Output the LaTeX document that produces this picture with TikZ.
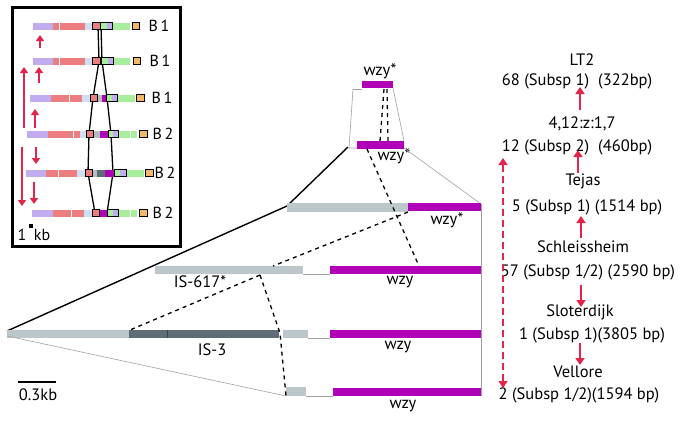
\documentclass[tikz,border=0pt]{standalone}
\usepackage{fontspec}
\setmainfont{PT Sans}
\usetikzlibrary{arrows.meta}
\definecolor{lpur}{HTML}{C0ACEE}
\definecolor{sal}{HTML}{EC7E80}
\definecolor{lblu}{HTML}{CFDFF4}
\definecolor{lgrn}{HTML}{A8EE9C}
\definecolor{orng}{HTML}{F2B866}
\definecolor{igry}{HTML}{B4BEC2}
\definecolor{dgry}{HTML}{5E6E76}
\definecolor{mag}{HTML}{B000B8}
\definecolor{barg}{HTML}{BCC7CC}
\definecolor{arr}{HTML}{E3244B}
\definecolor{thin}{HTML}{A0A0A0}
\newcommand{\insrow}[3]{%
  \foreach \cl/\ww [remember=\nx as \cx (initially #2)] in {#3}{%
    \pgfmathsetmacro{\nx}{\cx+\ww}%
    \fill[\cl] (\cx,#1-3.5) rectangle (\nx,#1+3.5);
    \draw[white, line width=0.4pt] (\nx,#1-3.5) -- (\nx,#1+3.5);
  }}
\newcommand{\bbox}[3]{\draw[black, line width=0.9pt] (#2,#1-3.5) rectangle (#3,#1+3.5);}
\begin{document}
\begin{tikzpicture}[x=1pt,y=-1pt,
  lbl/.style={font=\fontsize{16.5}{16.5}\selectfont, inner sep=0pt},
  blbl/.style={font=\fontsize{16}{16}\selectfont, inner sep=0pt},
  redarr/.style={draw=arr, line width=2.6pt, -{Triangle[width=9pt,length=7pt]}},
  inarr/.style={draw=arr, line width=2.4pt, -{Triangle[width=8pt,length=6pt]}},
  thinl/.style={draw=thin, line width=0.6pt},
  dsh/.style={draw=black, line width=1.3pt, dash pattern=on 4pt off 4pt},
  blk/.style={draw=black, line width=1.4pt},
  ]
\useasboundingbox (0,0) rectangle (683,421);
% ---------------- inset ----------------
\draw[line width=3pt] (12,7) rectangle (180,246);
\draw[black, line width=1.3pt] (98,26) -- (99,61) -- (93,98) -- (89,134) -- (88,173) -- (95,213);
\draw[black, line width=1.3pt] (101,26) -- (102,61) -- (107,98) -- (111,134) -- (113,173) -- (107,213);
% row 1
\insrow{26}{33}{lpur/6.7,lpur/6.7,lpur/6.7,sal/6.4,sal/6.4,sal/6.4,sal/6.4,sal/6.4,lblu/7.5,sal/7.5,lgrn/7,lpur/5.5,lgrn/5.7,lgrn/5.7,lgrn/5.7}
\fill[orng] (132,22.5) rectangle (139,29.5);
\bbox{26}{92.6}{100.1}\bbox{26}{100.1}{112.6}\bbox{26}{132}{139}
% row 2
\insrow{61}{33}{lpur/6.7,lpur/6.7,lpur/6.7,sal/6.4,sal/6.4,sal/6.4,sal/6.4,sal/6.4,lblu/7.5,sal/7.5,mag/1.8,lgrn/6,lpur/5.5,lgrn/5.7,lgrn/5.7,lgrn/5.7}
\fill[orng] (133,57.5) rectangle (140,64.5);
\bbox{61}{92.6}{100.1}\bbox{61}{101.9}{113.4}\bbox{61}{133}{140}
% row 3
\insrow{98}{30}{lpur/7,lpur/7,lpur/7,sal/6.2,sal/6.2,sal/6.2,sal/6.2,sal/6.2,lblu/8,sal/7,igry/5,mag/4,lgrn/6,lpur/5,lgrn/6,lgrn/6,lgrn/6}
\fill[orng] (136,94.5) rectangle (144,101.5);
\bbox{98}{90}{97}\bbox{98}{106}{117}\bbox{98}{136}{144}
% row 4
\insrow{134}{27}{lpur/7,lpur/7,lpur/7,sal/6.4,sal/6.4,sal/6.4,sal/6.4,sal/6.4,lblu/6,sal/7,igry/7,mag/8,lgrn/5,lpur/5,lgrn/6.3,lgrn/6.3,lgrn/6.3}
\fill[orng] (139,130.5) rectangle (147,137.5);
\bbox{134}{86}{93}\bbox{134}{108}{118}\bbox{134}{139}{147}
% row 5
\insrow{173}{26}{lpur/6.7,lpur/6.7,lpur/6.7,sal/6.2,sal/6.2,sal/6.2,sal/6.2,sal/6.2,lblu/8,sal/7,igry/5,dgry/8,mag/9,lgrn/6,lpur/6,lgrn/6,lgrn/6,lgrn/6}
\fill[orng] (145,169.5) rectangle (153,176.5);
\bbox{173}{85}{92}\bbox{173}{114}{126}\bbox{173}{145}{153}
% row 6
\insrow{213}{32}{lpur/7,lpur/7,lpur/7,sal/6.2,sal/6.2,sal/6.2,sal/6.2,sal/6.2,lblu/8,sal/7,white/1,mag/7,lgrn/6,lpur/5,lgrn/6.3,lgrn/6.3,lgrn/6.3}
\fill[orng] (139,209.5) rectangle (147,216.5);
\bbox{213}{92}{99}\bbox{213}{107}{118}\bbox{213}{139}{147}
% B labels
\node[blbl] (b1) at (159,26) {B\,1};
\node[blbl] (b2) at (160,61) {B\,1};
\node[blbl] (b3) at (162,98) {B\,1};
\node[blbl] (b4) at (163,134) {B\,2};
\node[blbl] (b5) at (165,173) {B\,2};
\node[blbl] (b6) at (163,213) {B\,2};
% inset arrows
\draw[inarr] (40,48) -- (40,35);
\draw[inarr] (24,128) -- (24,67);
\draw[inarr] (39,83) -- (39,67);
\draw[inarr] (35,128) -- (35,109);
\draw[inarr] (36,147) -- (36,164);
\draw[inarr] (22,147) -- (22,206);
\draw[inarr] (34,182) -- (34,204);
% 1 kb
\node[blbl] (one) at (22,235) {1};
\fill[black] (28.5,223.5) rectangle (32.5,227.5);
\node[blbl] (kb) at (42,235) {kb};
% ---------------- main map ----------------
% top wzy*
\fill[mag] (362,81) rectangle (393,88);
\node[lbl] (wz1) at (380,71) {wzy*};
\coordinate (t1l) at (353,89);
\coordinate (t1r) at (393,88);
\coordinate (t2l) at (349,148);
\draw[thinl] (t1l) -- (362,89);
\draw[thinl] (t1l) -- (t2l) -- (357,148);
\draw[thinl] (t1r) -- (404,141);
\draw[dsh] (384,89) -- (380,141);
\draw[dsh] (387,89) -- (388,141);
% second wzy*
\fill[mag] (357,141) rectangle (404,149);
\node[lbl] (wz2) at (394,156) {wzy*};
\draw[thinl] (404,148) -- (481,204);
\draw[blk] (348,147) -- (287,206) -- (7,331);
% row 3
\fill[barg] (287,203) rectangle (408,212);
\fill[mag] (408,203) rectangle (481,211);
\node[lbl] (wz3) at (447,220) {wzy*};
\draw[thinl] (481,204) -- (481,396);
% row 4
\fill[barg] (155,266) rectangle (303,274);
\draw[thinl] (303,274) -- (330,274);
\fill[mag] (330,266) rectangle (481,274);
\node[lbl] (is617) at (200,282) {IS-617*};
\node[lbl] (wz4) at (400,282) {wzy};
% row 5
\fill[barg] (7,330) rectangle (129,338);
\fill[dgry] (129,330) rectangle (279,338);
\draw[black!40!dgry, line width=0.5pt] (167,330) -- (167,338);
\fill[barg] (283,330) rectangle (308,338);
\draw[thinl] (308,338) -- (330,338);
\fill[mag] (330,330) rectangle (481,338);
\node[lbl] (is3) at (212,350) {IS-3};
\node[lbl] (wz5) at (398,347) {wzy};
% row 6
\draw[thinl] (7,336) -- (286,396);
\fill[barg] (286,387) rectangle (306,396);
\draw[thinl] (306,396) -- (333,396);
\fill[mag] (333,388) rectangle (481,396);
\node[lbl] (wz6) at (403,406) {wzy};
% dashed links
\draw[dsh] (367,149) -- (419,266);
\draw[dsh] (408,212) -- (273,266);
\draw[dsh] (260,275) -- (130,330);
\draw[dsh] (260,275) -- (280,333) -- (286,396);
% scale bar
\draw[line width=1.5pt] (18,382) -- (56,382);
\node[lbl] (sc) at (38,395) {0.3kb};
% ---------------- right column ----------------
\node[lbl] (lt2) at (582,60) {LT2};
\node[lbl] (s68) at (577,81) {68 (Subsp 1)\ \ (322bp)};
\node[lbl] (h412) at (582,124) {4,12:z:1,7};
\node[lbl] (s12) at (577,147) {12 (Subsp 2)\ \ (460bp)};
\node[lbl] (tej) at (583,181) {Tejas};
\node[lbl] (s5) at (587,207) {5 (Subsp 1) (1514 bp)};
\node[lbl] (sch) at (583,247) {Schleissheim};
\node[lbl] (s57) at (588,272) {57 (Subsp 1/2) (2590 bp)};
\node[lbl] (slo) at (580,312) {Sloterdijk};
\node[lbl] (s1) at (592,335) {1 (Subsp 1)(3805 bp)};
\node[lbl] (vel) at (578,372) {Vellore};
\node[lbl] (s2) at (579,395) {2 (Subsp 1/2)(1594 bp)};
\draw[redarr] (580,110) -- (580,87);
\draw[redarr] (578,173) -- (578,150);
\draw[redarr] (581,238) -- (581,216);
\draw[redarr] (581,285) -- (581,307);
\draw[redarr] (580,343) -- (580,365);
\draw[draw=arr, line width=2.6pt, dash pattern=on 7pt off 4pt, {Triangle[width=9pt,length=7pt]}-{Triangle[width=9pt,length=7pt]}] (503,158) -- (503,388);
\end{tikzpicture}
\end{document}
